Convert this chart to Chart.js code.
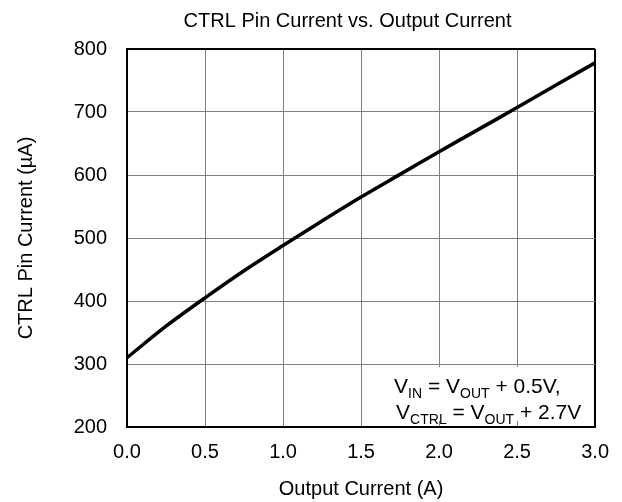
<!DOCTYPE html>
<html>
<head>
<meta charset="utf-8">
<script src="https://cdn.jsdelivr.net/npm/chart.js@4.4.1/dist/chart.umd.min.js"></script>
<style>
    html, body { margin: 0; padding: 0; background: #fff; }
</style>
</head>
<body>
<canvas id="ctrlChart" width="622" height="502"></canvas>
<script>
// values
const outputCurrent = [0, 0.25, 0.5, 0.75, 1.0, 1.25, 1.5, 1.75, 2.0, 2.25, 2.5, 2.75, 3.0];
const ctrlCurrent = [310, 360, 405, 448, 488, 527, 565, 601, 637, 672, 707, 743, 778];

const xTickLabels = ["0.0", "0.5", "1.0", "1.5", "2.0", "2.5", "3.0"];
const yTickLabels = ["200", "300", "400", "500", "600", "700", "800"];

// conditions note, each part: [text, isSubscript]
const noteLine1 = [["V", false], ["IN", true], [" = V", false], ["OUT", true], [" + 0.5V,", false]];
const noteLine2 = [["V", false], ["CTRL", true], [" = V", false], ["OUT", true], [" + 2.7V", false]];

const fontFamily = "'Liberation Sans', Arial, sans-serif";

const notePlugin = {
    id: "noteBox",
    afterLayout(chart) {
        // centre the title a bit right of the canvas middle, like the original
        chart.titleBlock.left = 100;
        chart.titleBlock.right = chart.chartArea.right;
    },
    afterDatasetsDraw(chart) {
        const { ctx, chartArea } = chart;
        ctx.save();
        ctx.fillStyle = "#fff";
        ctx.fillRect(chartArea.right - 208, chartArea.bottom - 60, 206, 54);
        ctx.fillStyle = "#000";
        ctx.textBaseline = "alphabetic";
        const drawLine = (parts, x, y) => {
            parts.forEach(([text, sub]) => {
                ctx.font = (sub ? "14px " : "21px ") + fontFamily;
                ctx.fillText(text, x, sub ? y + 5 : y);
                x += ctx.measureText(text).width;
            });
        };
        drawLine(noteLine1, chartArea.right - 201, chartArea.bottom - 34);
        drawLine(noteLine2, chartArea.right - 199, chartArea.bottom - 8);
        ctx.restore();
    }
};

const ctx = document.getElementById("ctrlChart").getContext("2d");

new Chart(ctx, {
    type: "line",
    data: {
        datasets: [
            {
                data: outputCurrent.map((x, i) => ({ x: x, y: ctrlCurrent[i] })),
                borderColor: "#000",
                borderWidth: 3.5,
                pointRadius: 0,
                tension: 0.3,
                fill: false
            }
        ]
    },
    options: {
        responsive: false,
        animation: false,
        layout: {
            padding: { left: 0, right: 23, top: 0, bottom: 0 }
        },
        plugins: {
            legend: { display: false },
            tooltip: { enabled: false },
            title: {
                display: true,
                text: "CTRL Pin Current vs. Output Current",
                color: "#000",
                font: { family: fontFamily, size: 20, weight: "normal" },
                padding: { top: 9, bottom: 16 }
            }
        },
        scales: {
            x: {
                type: "linear",
                min: 0,
                max: 3,
                afterFit: (scale) => { scale.height = 75; },
                ticks: {
                    stepSize: 0.5,
                    color: "#000",
                    padding: 13,
                    maxRotation: 0,
                    font: { family: fontFamily, size: 20 },
                    callback: (value) => xTickLabels[Math.round(value / 0.5)]
                },
                grid: {
                    drawTicks: false,
                    color: (c) => (c.tick && c.tick.value === 3 ? "#000" : "#808080"),
                    lineWidth: (c) => (c.tick && c.tick.value === 3 ? 2 : 1)
                },
                border: { color: "#000", width: 2 },
                title: {
                    display: true,
                    text: "Output Current (A)",
                    color: "#000",
                    font: { family: fontFamily, size: 20 },
                    padding: { top: 0, bottom: 1 }
                }
            },
            y: {
                min: 200,
                max: 800,
                afterFit: (scale) => { scale.width = 127; },
                ticks: {
                    stepSize: 100,
                    color: "#000",
                    padding: 20,
                    font: { family: fontFamily, size: 20 },
                    callback: (value) => yTickLabels[Math.round((value - 200) / 100)]
                },
                grid: {
                    drawTicks: false,
                    color: (c) => (c.tick && c.tick.value === 800 ? "#000" : "#808080"),
                    lineWidth: (c) => (c.tick && c.tick.value === 800 ? 2 : 1)
                },
                border: { color: "#000", width: 2 },
                title: {
                    display: true,
                    text: "CTRL Pin Current (µA)",
                    color: "#000",
                    font: { family: fontFamily, size: 20 },
                    padding: { top: 14, bottom: 0 }
                }
            }
        }
    },
    plugins: [notePlugin]
});
</script>
</body>
</html>
